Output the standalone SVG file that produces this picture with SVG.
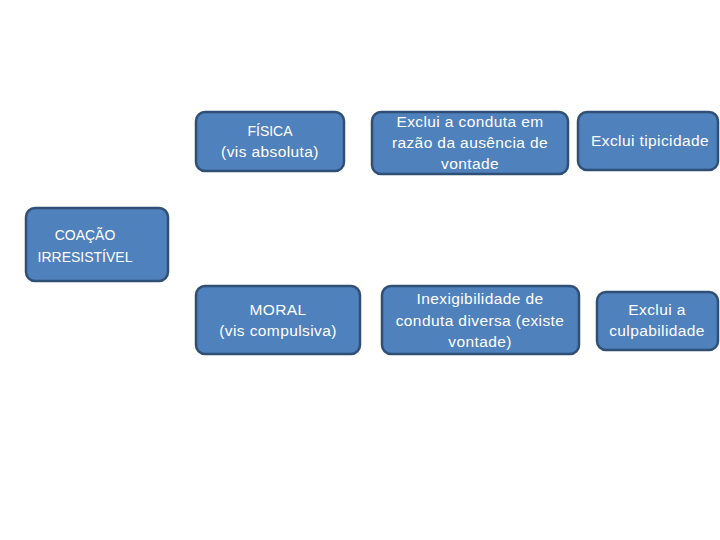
<svg xmlns="http://www.w3.org/2000/svg" width="720" height="540" viewBox="0 0 720 540">
<style>
.box{fill:#4F81BD;stroke:#2F4F75;stroke-width:2.5}
.t{font-family:"Liberation Sans",Arial,sans-serif;font-size:15.5px;letter-spacing:0.4px;fill:#FFFFFF;text-anchor:middle}
.c{font-size:14px;letter-spacing:0}
</style>
<rect width="720" height="540" fill="#FFFFFF"/>
<g id="connectors"></g>
<g id="coacao">
<rect class="box" x="26" y="208" width="142" height="73" rx="9"/>
<text class="t c" x="85" y="240">COAÇÃO</text>
<text class="t c" x="85" y="262">IRRESISTÍVEL</text>
</g>
<g id="fisica">
<rect class="box" x="196" y="112" width="148" height="59" rx="9"/>
<text class="t c" x="270" y="136">FÍSICA</text>
<text class="t" x="270" y="157">(vis absoluta)</text>
</g>
<g id="exclui-conduta">
<rect class="box" x="372" y="112" width="196" height="62" rx="9"/>
<text class="t" x="470" y="127">Exclui a conduta em</text>
<text class="t" x="470" y="148">razão da ausência de</text>
<text class="t" x="470" y="169">vontade</text>
</g>
<g id="exclui-tipicidade">
<rect class="box" x="578" y="112" width="140" height="58" rx="9"/>
<text class="t" x="650" y="146">Exclui tipicidade</text>
</g>
<g id="moral">
<rect class="box" x="196" y="286" width="164" height="68" rx="9"/>
<text class="t" x="278" y="315">MORAL</text>
<text class="t" x="278" y="336">(vis compulsiva)</text>
</g>
<g id="inexigibilidade">
<rect class="box" x="382" y="286" width="197" height="68" rx="9"/>
<text class="t" x="480" y="304">Inexigibilidade de</text>
<text class="t" x="480" y="326">conduta diversa (existe</text>
<text class="t" x="480" y="347">vontade)</text>
</g>
<g id="exclui-culpabilidade">
<rect class="box" x="597" y="292" width="121" height="58" rx="9"/>
<text class="t" x="657" y="315">Exclui a</text>
<text class="t" x="657" y="336">culpabilidade</text>
</g>
</svg>
